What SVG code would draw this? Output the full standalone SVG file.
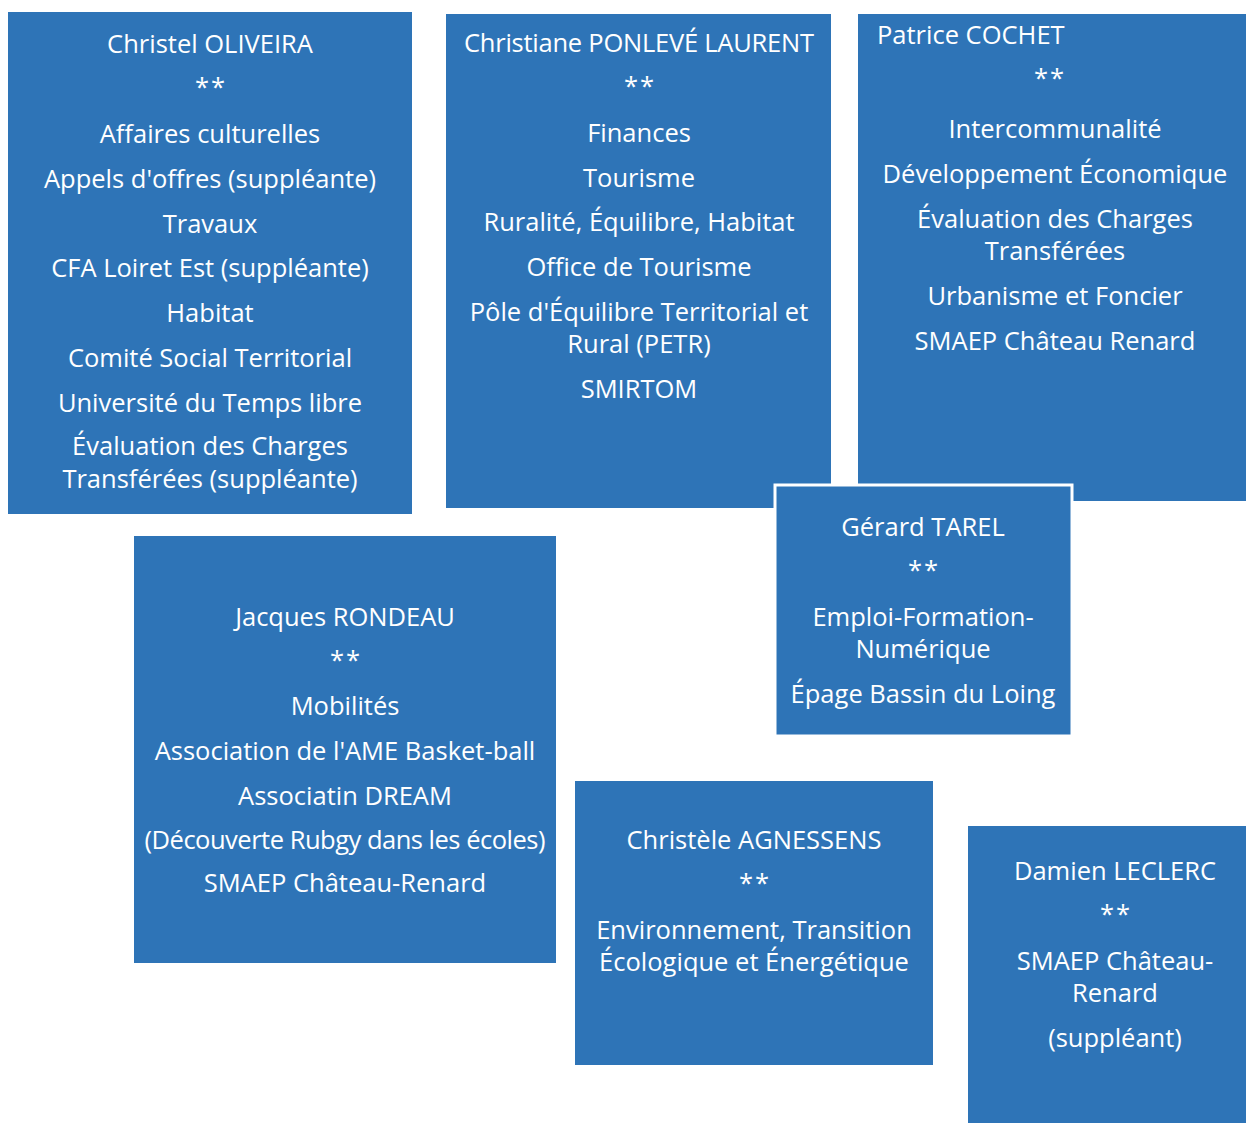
<svg xmlns="http://www.w3.org/2000/svg" width="1246" height="1123" viewBox="0 0 1246 1123">
<style>
.box{fill:#2E74B7}
.t{font-family:"Open Sans","Noto Sans",sans-serif;font-size:25.5px;fill:#ffffff;text-anchor:middle}
.l{text-anchor:start}
.s{letter-spacing:2px}
</style>
<rect width="1246" height="1123" fill="#ffffff"/>
<g id="connectors"/>
<g id="oliveira">
<rect class="box" x="8" y="12" width="404" height="502"/>
<text class="t" x="210" y="53">Christel OLIVEIRA</text>
<text class="t s" x="211" y="96">**</text>
<text class="t" x="210" y="143">Affaires culturelles</text>
<text class="t" x="210" y="188">Appels d'offres (suppléante)</text>
<text class="t" x="210" y="233">Travaux</text>
<text class="t" x="210" y="277">CFA Loiret Est (suppléante)</text>
<text class="t" x="210" y="322">Habitat</text>
<text class="t" x="210" y="367">Comité Social Territorial</text>
<text class="t" x="210" y="412">Université du Temps libre</text>
<text class="t" x="210" y="455">Évaluation des Charges</text>
<text class="t" x="210" y="488">Transférées (suppléante)</text>
</g>
<g id="ponleve">
<rect class="box" x="446" y="14" width="385" height="494"/>
<text class="t" x="639" y="52" textLength="350">Christiane PONLEVÉ LAURENT</text>
<text class="t s" x="640" y="95">**</text>
<text class="t" x="639" y="142">Finances</text>
<text class="t" x="639" y="187">Tourisme</text>
<text class="t" x="639" y="231">Ruralité, Équilibre, Habitat</text>
<text class="t" x="639" y="276">Office de Tourisme</text>
<text class="t" x="639" y="321">Pôle d'Équilibre Territorial et</text>
<text class="t" x="639" y="353">Rural (PETR)</text>
<text class="t" x="639" y="398">SMIRTOM</text>
</g>
<g id="cochet">
<rect class="box" x="858" y="14" width="388" height="487"/>
<text class="t l" x="877" y="44">Patrice COCHET</text>
<text class="t s" x="1050" y="87">**</text>
<text class="t" x="1055" y="138">Intercommunalité</text>
<text class="t" x="1055" y="183">Développement Économique</text>
<text class="t" x="1055" y="228">Évaluation des Charges</text>
<text class="t" x="1055" y="260">Transférées</text>
<text class="t" x="1055" y="305">Urbanisme et Foncier</text>
<text class="t" x="1055" y="350">SMAEP Château Renard</text>
</g>
<g id="tarel">
<rect class="box" x="775" y="485" width="297" height="251" stroke="#ffffff" stroke-width="3"/>
<text class="t" x="923" y="536">Gérard TAREL</text>
<text class="t s" x="924" y="579">**</text>
<text class="t" x="923" y="626">Emploi-Formation-</text>
<text class="t" x="923" y="658">Numérique</text>
<text class="t" x="923" y="703">Épage Bassin du Loing</text>
</g>
<g id="rondeau">
<rect class="box" x="134" y="536" width="422" height="427"/>
<text class="t" x="345" y="626">Jacques RONDEAU</text>
<text class="t s" x="346" y="669">**</text>
<text class="t" x="345" y="715">Mobilités</text>
<text class="t" x="345" y="760">Association de l'AME Basket-ball</text>
<text class="t" x="345" y="805">Associatin DREAM</text>
<text class="t" x="345" y="849" textLength="401">(Découverte Rubgy dans les écoles)</text>
<text class="t" x="345" y="892">SMAEP Château-Renard</text>
</g>
<g id="agnessens">
<rect class="box" x="575" y="781" width="358" height="284"/>
<text class="t" x="754" y="849">Christèle AGNESSENS</text>
<text class="t s" x="755" y="892">**</text>
<text class="t" x="754" y="939">Environnement, Transition</text>
<text class="t" x="754" y="971">Écologique et Énergétique</text>
</g>
<g id="leclerc">
<rect class="box" x="968" y="826" width="278" height="297"/>
<text class="t" x="1115" y="880">Damien LECLERC</text>
<text class="t s" x="1116" y="923">**</text>
<text class="t" x="1115" y="970">SMAEP Château-</text>
<text class="t" x="1115" y="1002">Renard</text>
<text class="t" x="1115" y="1047">(suppléant)</text>
</g>
</svg>
